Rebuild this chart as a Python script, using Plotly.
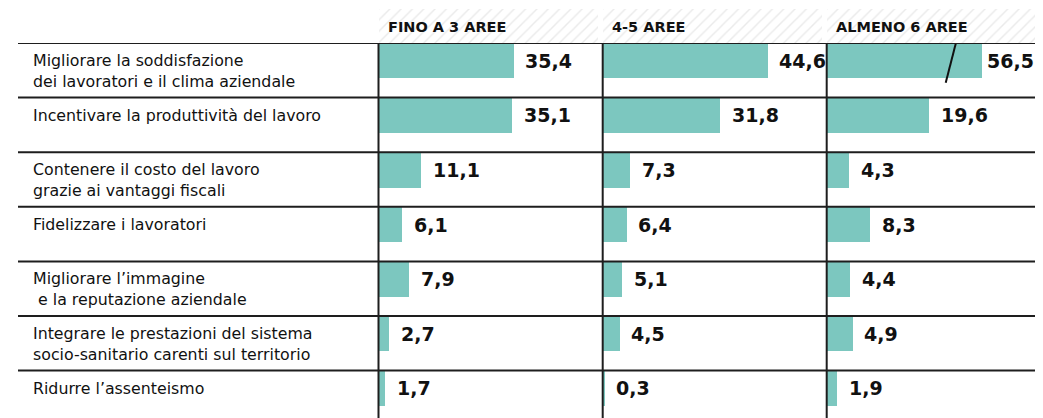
import plotly.graph_objects as go

# ---- data ----
categories = [
    "Migliorare la soddisfazione<br>dei lavoratori e il clima aziendale",
    "Incentivare la produttività del lavoro",
    "Contenere il costo del lavoro<br>grazie ai vantaggi fiscali",
    "Fidelizzare i lavoratori",
    "Migliorare l’immagine<br>\u00a0e la reputazione aziendale",
    "Integrare le prestazioni del sistema<br>socio-sanitario carenti sul territorio",
    "Ridurre l’assenteismo",
]
panel_titles = ["FINO A 3 AREE", "4-5 AREE", "ALMENO 6 AREE"]
fino_3 = [35.4, 35.1, 11.1, 6.1, 7.9, 2.7, 1.7]
aree_4_5 = [44.6, 31.8, 7.3, 6.4, 5.1, 4.5, 0.3]
almeno_6 = [56.5, 19.6, 4.3, 8.3, 4.4, 4.9, 1.9]
series = [fino_3, aree_4_5, almeno_6]

# ---- style / layout ----
OFF = 8                      # page body margin offset
W, H = 1043 - 2 * OFF, 418 - OFF
TEAL = "#7cc7bf"
LINE = "#1e1e1e"
TOP_PX = 43.0 - OFF          # top rule position (px from fig top)
ROW_PX = 54.6                # row pitch in px
HEAD_TOP_PX = 9.0 - OFF
panel_left_px = [378.5 - OFF, 602.7 - OFF, 826.7 - OFF, W]
px_per_unit = [3.80, 3.69, 5.22]
BREAK_AT = [None, None, 29.6]   # axis-break for panel 3
BAR_W = 0.65
LABEL_FONT = "DejaVu Sans"

def pyf(px_from_top):
    return (H - px_from_top) / H

n = len(categories)
y_bottom = (H - TOP_PX) / ROW_PX

fig = go.Figure()
layout = dict(
    width=W, height=H, margin=dict(l=0, r=0, t=0, b=0),
    plot_bgcolor="white", paper_bgcolor="white", showlegend=False,
    bargap=0, barmode="overlay",
)
layout["yaxis"] = dict(domain=[0, pyf(TOP_PX)], range=[y_bottom, 0], visible=False,
                       fixedrange=True)
layout["yaxis4"] = dict(domain=[pyf(TOP_PX), pyf(HEAD_TOP_PX)], range=[-0.5, 0.5],
                        visible=False, anchor="x")

annotations = []
shapes = []

for i in range(3):
    ax = "" if i == 0 else str(i + 1)
    d0 = panel_left_px[i] / W
    d1 = panel_left_px[i + 1] / W
    span_px = panel_left_px[i + 1] - panel_left_px[i]
    rng = span_px / px_per_unit[i]
    layout["xaxis" + ax] = dict(domain=[d0, d1], range=[0, rng], visible=False,
                                anchor="y", fixedrange=True)
    vals = series[i]
    brk = BREAK_AT[i]
    shown = [min(v, brk) if brk else v for v in vals]
    fig.add_trace(go.Bar(
        x=shown, y=list(range(n)), base=0, orientation="h", width=BAR_W, offset=0,
        marker=dict(color=TEAL, line=dict(width=0)),
        xaxis="x" + ax, yaxis="y", hoverinfo="skip",
    ))
    # header hatch band
    gap_units = (5.0 / px_per_unit[i]) if i < 2 else 0
    fig.add_trace(go.Bar(
        x=[rng - gap_units], y=[0], base=0, orientation="h", width=1,
        marker=dict(color="white", line=dict(width=0),
                    pattern=dict(shape="/", fgcolor="#d6d6d6", bgcolor="white",
                                 size=8, solidity=0.18)),
        xaxis="x" + ax, yaxis="y4", hoverinfo="skip",
    ))
    annotations.append(dict(
        text="<b>" + panel_titles[i] + "</b>", xref="x" + ax + " domain", x=0, xshift=7,
        yref="paper", y=pyf(27 - OFF), xanchor="left", yanchor="middle", showarrow=False,
        font=dict(family="DejaVu Sans", size=14.5, color="#111"),
    ))
    for k, v in enumerate(vals):
        broken = bool(brk) and v > brk
        annotations.append(dict(
            text="<b>" + f"{v:.1f}".replace(".", ",") + "</b>",
            xref="x" + ax, x=shown[k], yref="y", y=k + BAR_W / 2,
            xanchor="left", yanchor="middle", xshift=5 if broken else 11,
            showarrow=False, borderpad=0,
            font=dict(family="DejaVu Sans", size=19, color="#111"),
        ))
    # vertical rule at panel left
    shapes.append(dict(type="line", xref="x" + ax + " domain", x0=0, x1=0,
                       yref="y domain", y0=0, y1=1, line=dict(color=LINE, width=2)))
    if brk:
        for k, v in enumerate(vals):
            if v > brk:
                shapes.append(dict(type="line", xref="x" + ax, yref="y",
                                   x0=brk - 4.85, y0=k, x1=brk - 6.8, y1=k + 0.73,
                                   line=dict(color="#111", width=2)))

# horizontal row rules
for k in range(n):
    shapes.append(dict(type="line", xref="paper", x0=(18 - OFF) / W, x1=1, yref="y",
                       y0=k, y1=k, line=dict(color=LINE, width=2)))

# row labels
for k, c in enumerate(categories):
    annotations.append(dict(
        text=c, xref="paper", x=(31 - OFF) / W, yref="y", y=k, yanchor="top", yshift=-6,
        xanchor="left", align="left", showarrow=False,
        font=dict(family=LABEL_FONT, size=15.8, color="#111"),
    ))

layout["annotations"] = annotations
layout["shapes"] = shapes
fig.update_layout(**layout)
fig.write_html("out.html")
